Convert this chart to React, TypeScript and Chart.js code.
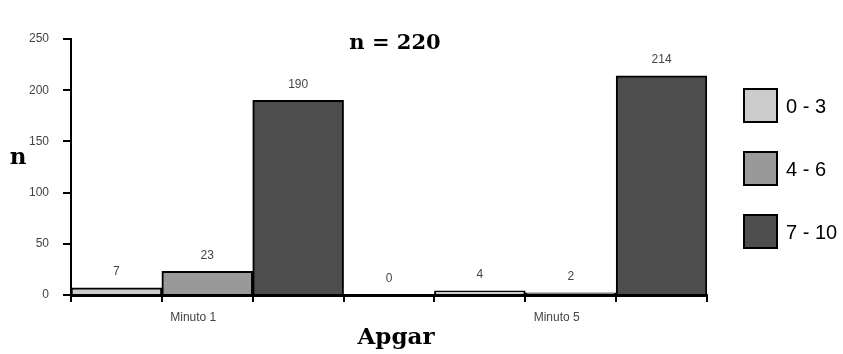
import React, { useEffect, useRef } from "react";
import { Chart, registerables } from "chart.js";

Chart.register(...registerables);

const categories = ["", "Minuto 1", "", "", "", "Minuto 5", ""];
const seriesNames = ["0 - 3", "4 - 6", "7 - 10"];
const seriesLow = [7, null, null, 0, 4, null, null];
const seriesMid = [null, 23, null, null, null, 2, null];
const seriesHigh = [null, null, 190, null, null, null, 214];
const seriesColors = ["#cccccc", "#999999", "#4d4d4d"];
const yTicks = [0, 50, 100, 150, 200, 250];
const chartTitle = "n = 220";
const xTitle = "Apgar";
const yTitle = "n";

const NARROW = "'Liberation Sans Narrow', 'Arial Narrow', 'Liberation Sans', Arial, sans-serif";
const SERIF = "'DejaVu Serif', 'Liberation Serif', serif";

const decorPlugin = {
  id: "decor",
  afterDatasetsDraw(chart: any) {
    const ctx = chart.ctx;
    ctx.save();
    ctx.font = `12px ${NARROW}`;
    ctx.fillStyle = "#444";
    ctx.textAlign = "center";
    ctx.textBaseline = "middle";
    chart.data.datasets.forEach((ds: any, i: number) => {
      const meta = chart.getDatasetMeta(i);
      meta.data.forEach((el: any, j: number) => {
        const v = ds.data[j];
        if (v === null || v === undefined) return;
        ctx.fillText(String(v), el.x, el.y - 16);
      });
    });
    ctx.restore();
  },
  afterDraw(chart: any) {
    const ctx = chart.ctx;
    ctx.save();
    ctx.fillStyle = "#000";
    ctx.textAlign = "center";
    ctx.textBaseline = "middle";
    ctx.font = `bold 21px ${SERIF}`;
    ctx.fillText(chartTitle, 395, 44);
    ctx.font = `bold 23px ${SERIF}`;
    ctx.fillText(xTitle, 396, 338);
    ctx.font = `bold 23px ${SERIF}`;
    ctx.fillText(yTitle, 18, 158);

    // legend
    const tops = [89, 152, 215];
    ctx.textAlign = "left";
    ctx.font = `20px 'Liberation Sans', Arial, sans-serif`;
    seriesNames.forEach((name, i) => {
      ctx.fillStyle = seriesColors[i];
      ctx.fillRect(744, tops[i], 33, 33);
      ctx.strokeStyle = "#000";
      ctx.lineWidth = 2;
      ctx.strokeRect(744, tops[i], 33, 33);
      ctx.fillStyle = "#000";
      ctx.fillText(name, 786, tops[i] + 18);
    });
    ctx.restore();
  },
};

export default function App() {
  const ref = useRef<HTMLCanvasElement>(null);
  useEffect(() => {
    document.body.style.margin = "0";
    const seriesData = [seriesLow, seriesMid, seriesHigh];
    const chart = new Chart(ref.current!, {
      type: "bar",
      data: {
        labels: categories,
        datasets: seriesNames.map((name, i) => ({
          label: name,
          data: seriesData[i],
          backgroundColor: seriesColors[i],
          borderColor: "#000",
          borderWidth: 2,
          categoryPercentage: 1,
          barPercentage: 1,
        })),
      },
      options: {
        responsive: false,
        animation: false,
        layout: { padding: { left: 0, top: 39, right: 136, bottom: 0 } },
        plugins: { legend: { display: false }, tooltip: { enabled: false }, title: { display: false } },
        scales: {
          x: {
            stacked: true,
            grid: { offset: true, drawOnChartArea: false, tickLength: 7, color: "#000", lineWidth: 2 },
            border: { color: "#000", width: 3 },
            ticks: { color: "#444", font: { family: NARROW, size: 12 }, labelOffset: -14, padding: 8, maxRotation: 0, autoSkip: false },
            afterFit: (s: any) => { s.height = 59; },
          },
          y: {
            min: 0,
            max: 250,
            afterBuildTicks: (s: any) => { s.ticks = yTicks.map((v) => ({ value: v })); },
            grid: { drawOnChartArea: false, tickLength: 8, color: "#000", lineWidth: 2 },
            border: { color: "#000", width: 2 },
            ticks: { color: "#444", font: { family: NARROW, size: 12 }, padding: 14 },
            afterFit: (s: any) => { s.width = 71; },
          },
        },
      },
      plugins: [decorPlugin],
    });
    return () => chart.destroy();
  }, []);
  return (
    <div style={{ width: 843, height: 354 }}>
      <canvas ref={ref} width={843} height={354} />
    </div>
  );
}
